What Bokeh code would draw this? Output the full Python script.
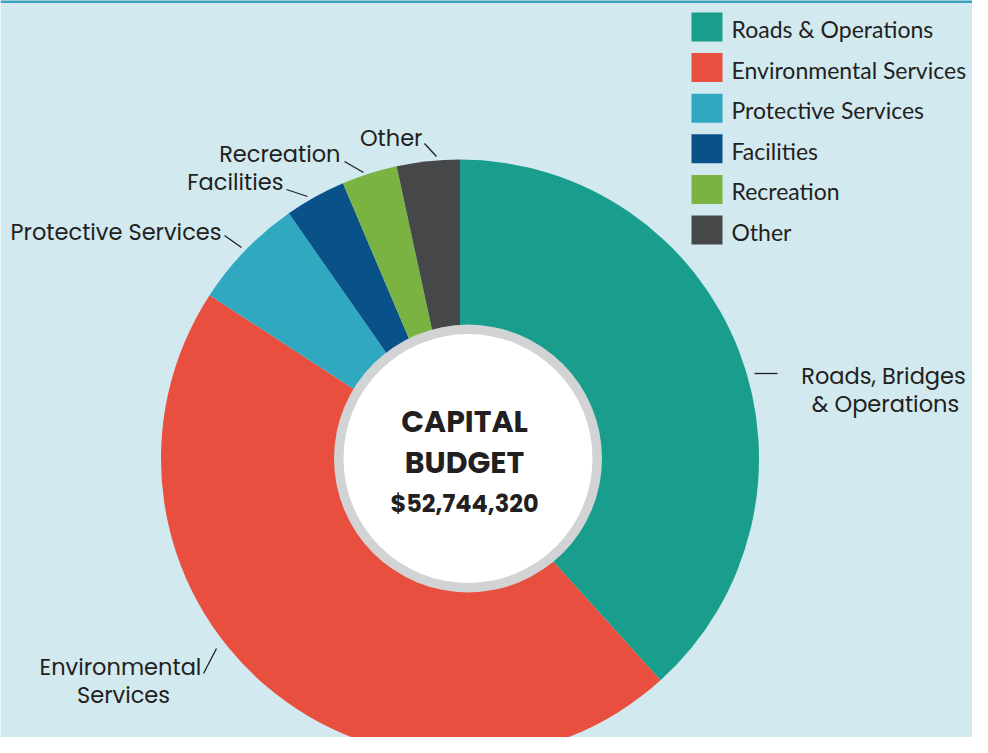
import numpy as np
import pandas as pd
from bokeh.plotting import figure
from bokeh.models import ColumnDataSource, Range1d
from bokeh.core.properties import value
from bokeh.embed import file_html
from bokeh.resources import INLINE

# ---- data ----
categories = ["Roads & Operations", "Environmental Services", "Protective Services",
              "Facilities", "Recreation", "Other"]
shares = [38.3, 45.9, 6.1, 3.3, 3.0, 3.4]   # percent of capital budget
colors = ["#199d8c", "#e94f3e", "#2fa8c0", "#095289", "#7bb342", "#464749"]
callout_labels = [["Roads, Bridges", "& Operations"], ["Environmental", "Services"],
                  ["Protective Services"], ["Facilities"], ["Recreation"], ["Other"]]
title_lines = ["CAPITAL", "BUDGET"]
total_text = "$52,744,320"

BG = "#d2e9ef"
TXT = "#231f20"
H = 753  # screen height used to convert screen y to data y


def sy(y):
    return H - y


df = pd.DataFrame({"cat": categories, "share": shares, "color": colors})
frac = df["share"] / df["share"].sum()
cum_after = frac.cumsum()
cum_before = cum_after - frac
df["end"] = np.pi / 2 - cum_before * 2 * np.pi
df["start"] = np.pi / 2 - cum_after * 2 * np.pi
src = ColumnDataSource(df)

p = figure(width=972, height=737, x_range=Range1d(0, 972), y_range=Range1d(16, 753),
           output_backend="svg", toolbar_location=None, min_border=0,
           background_fill_color=BG, border_fill_color=BG, outline_line_color=None)
p.axis.visible = False
p.grid.visible = False

# top rule
p.segment(x0=[0], y0=[sy(1)], x1=[972], y1=[sy(1)], line_color="#3fa1bf", line_width=3)

cx, cy = 459.5, sy(458)
p.wedge(x=cx, y=cy, radius=299, start_angle="start", end_angle="end",
        direction="anticlock", fill_color="color", line_color=None, source=src)

# centre disc
ccx, ccy = 467.5, sy(458)
p.circle(x=[ccx], y=[ccy], radius=134, fill_color="#d1d3d4", line_color=None)
p.circle(x=[ccx], y=[ccy], radius=124.5, fill_color="white", line_color=None)

p.text(x=[464, 464], y=[sy(421), sy(462)], text=title_lines, text_align="center",
       text_baseline="middle", text_font=value("Poppins"), text_font_style="bold",
       text_font_size="30px", text_color=TXT)
p.text(x=[464], y=[sy(503)], text=[total_text], text_align="center",
       text_baseline="middle", text_font=value("Poppins"), text_font_style="bold",
       text_font_size="24px", text_color=TXT)

# callout labels
lab_x, lab_y, lab_t, lab_a = [], [], [], []
lab_pos = [
    [(883, 375), (885, 403)],
    [(120, 666), (123, 694)],
    [(221, 231)],
    [(283, 181)],
    [(340, 153)],
    [(422, 137)],
]
aligns = ["center", "center", "right", "right", "right", "right"]
for lines, pos, al in zip(callout_labels, lab_pos, aligns):
    for t, (x, y) in zip(lines, pos):
        lab_x.append(x)
        lab_y.append(sy(y))
        lab_t.append(t)
        lab_a.append(al)
p.text(x=lab_x, y=lab_y, text=lab_t, text_align=lab_a, text_baseline="middle",
       text_font=value("Poppins"), text_font_size="22.5px", text_color=TXT)

# leader lines
lx0 = [754, 203, 224, 286, 344, 424]
ly0 = [373, 673, 235, 189, 161, 143]
lx1 = [777, 216, 241, 307, 363, 436]
ly1 = [373, 648, 247, 196, 172, 156]
p.segment(x0=lx0, y0=[sy(v) for v in ly0], x1=lx1, y1=[sy(v) for v in ly1],
          line_color=TXT, line_width=1.3)

# legend
n = len(categories)
leg_y = [sy(26.5 + 40.6 * i) for i in range(n)]
p.rect(x=[706.5] * n, y=leg_y, width=31, height=29, fill_color=colors, line_color=None)
p.text(x=[731] * n, y=[v - 2 for v in leg_y], text=categories, text_align="left",
       text_baseline="middle", text_font=value("Lato"), text_font_size="23px",
       text_color=TXT)

open("out.html", "w").write(file_html(p, INLINE))
